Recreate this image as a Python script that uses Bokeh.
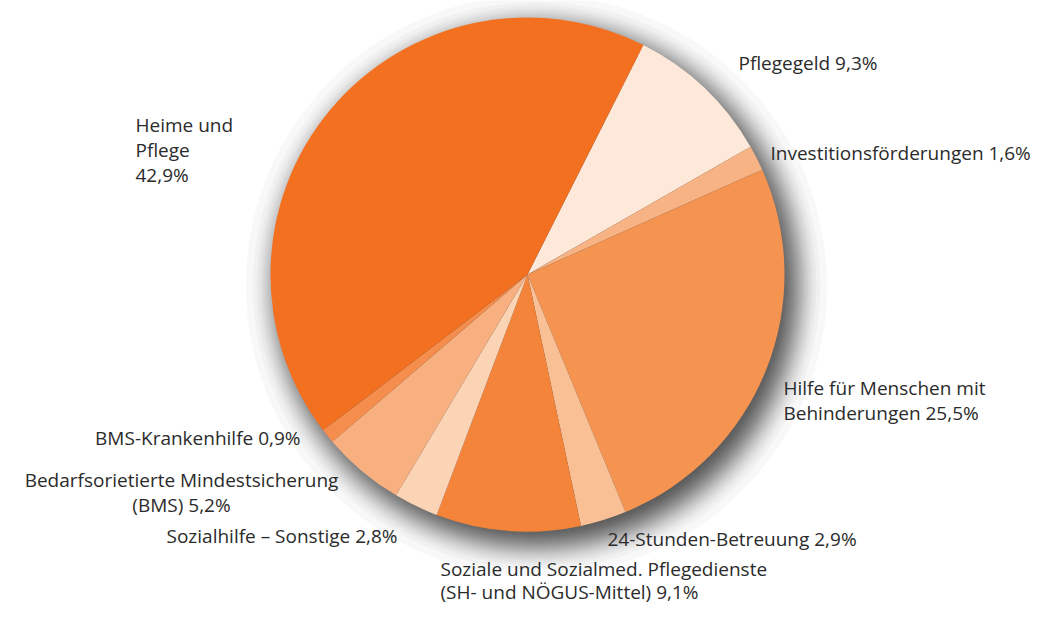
import math
from statistics import NormalDist
from bokeh.plotting import figure
from bokeh.models import Range1d, ColumnDataSource
from bokeh.core.properties import value
from bokeh.embed import file_html
from bokeh.resources import INLINE

# ---- data ----
categories = [
    "Pflegegeld",
    "Investitionsförderungen",
    "Hilfe für Menschen mit Behinderungen",
    "24-Stunden-Betreuung",
    "Soziale und Sozialmed. Pflegedienste (SH- und NÖGUS-Mittel)",
    "Sozialhilfe – Sonstige",
    "Bedarfsorietierte Mindestsicherung (BMS)",
    "BMS-Krankenhilfe",
    "Heime und Pflege",
]
shares = [9.3, 1.6, 25.5, 2.9, 9.1, 2.8, 5.2, 0.9, 42.9]
share_labels = ["9,3%", "1,6%", "25,5%", "2,9%", "9,1%", "2,8%", "5,2%", "0,9%", "42,9%"]
colors = ["#FDE8D9", "#F8B385", "#F59351", "#F9C095", "#F4843A",
          "#FBD3B5", "#F8B081", "#F58E4C", "#F37021"]

# label line layout (text lines per slice)
label_lines = [
    ["Pflegegeld 9,3%"],
    ["Investitionsförderungen 1,6%"],
    ["Hilfe für Menschen mit", "Behinderungen 25,5%"],
    ["24-Stunden-Betreuung 2,9%"],
    ["Soziale und Sozialmed. Pflegedienste", "(SH- und NÖGUS-Mittel) 9,1%"],
    ["Sozialhilfe – Sonstige 2,8%"],
    ["Bedarfsorietierte Mindestsicherung", "(BMS) 5,2%"],
    ["BMS-Krankenhilfe 0,9%"],
    ["Heime und", "Pflege", "42,9%"],
]

W, H = 1033, 604
def Y(py):
    return H - py

# layout: anchor x (px), first line y (px), align, line height
label_pos = [
    (738, 62, "left", 25),
    (770, 152, "left", 25),
    (783, 387, "left", 25),
    (607, 538, "left", 25),
    (440, 568, "left", 23),
    (397, 535, "right", 25),
    (181, 479, "center", 25),
    (300, 437, "right", 25),
    (135, 124, "left", 25),
]

cx, cy, r = 527, Y(274), 257
start_deg = 90 - 26.8  # math angle where first slice starts

total = sum(shares)
starts, ends = [], []
a = math.radians(start_deg)
for s in shares:
    da = s / total * 2 * math.pi
    starts.append(a - da)
    ends.append(a)
    a -= da

p = figure(width=W, height=H, output_backend="svg", toolbar_location=None,
           x_range=Range1d(0, W), y_range=Range1d(0, H),
           min_border=0, outline_line_color=None)
p.axis.visible = False
p.grid.visible = False
p.background_fill_color = "white"

# soft drop shadow: equal-alpha circles with radii at normal quantiles
nd = NormalDist()
N, sigma, sdx, sdy, sh_alpha = 40, 15.0, 9, -11, 0.028
sh_r = [r + sigma * nd.inv_cdf((k + 0.5) / N) for k in range(N)]
shsrc = ColumnDataSource(dict(x=[cx + sdx] * N, y=[cy + sdy] * N, radius=sh_r))
p.circle(x="x", y="y", radius="radius", fill_color="#000000",
         fill_alpha=sh_alpha, line_color=None, source=shsrc)

src = ColumnDataSource(dict(start=starts, end=ends, color=colors, cat=categories))
p.wedge(x=cx, y=cy, radius=r, start_angle="start", end_angle="end",
        fill_color="color", line_color=None, source=src)

xs, ys, txt, al = [], [], [], []
for lines, (lx, ly, align, lh) in zip(label_lines, label_pos):
    for k, t in enumerate(lines):
        xs.append(lx); ys.append(Y(ly + k * lh)); txt.append(t); al.append(align)
tsrc = ColumnDataSource(dict(x=xs, y=ys, text=txt, align=al))
p.text(x="x", y="y", text="text", text_align="align", text_baseline="middle",
       text_font=value("Open Sans"), text_font_size="19px", text_color="#2b2b2b",
       source=tsrc)

open("out.html", "w").write(file_html(p, INLINE))
